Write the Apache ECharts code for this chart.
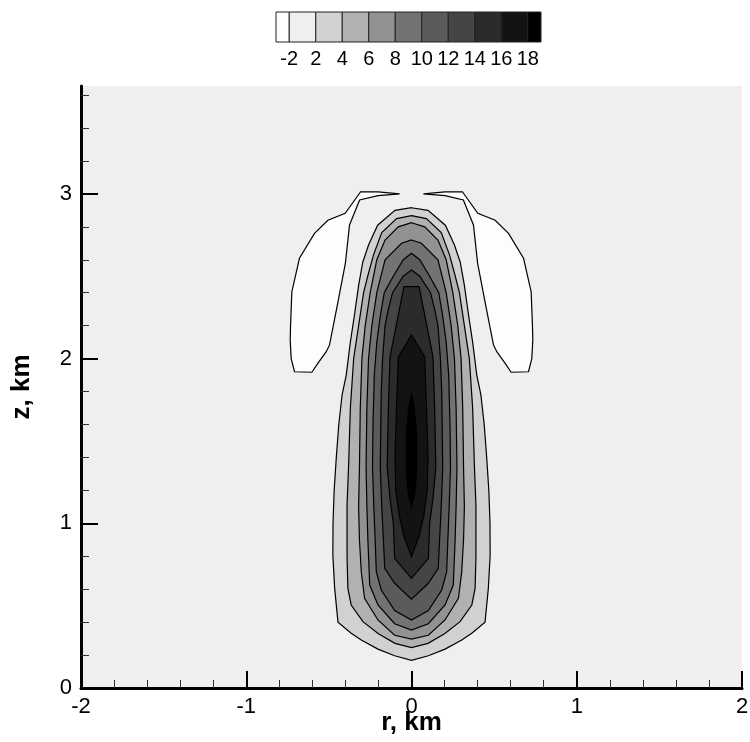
<!DOCTYPE html>
<html><head><meta charset="utf-8">
<script src="https://cdn.jsdelivr.net/npm/echarts@6/dist/echarts.min.js"></script>
<style>html,body{margin:0;padding:0;background:#fff}#c{width:750px;height:742px}</style>
</head><body><div id="c"></div>
<script>
// contour levels shown on the colour bar (labels at band boundaries)
const levelLabels = [-2, 2, 4, 6, 8, 10, 12, 14, 16, 18];
// fill colour of each band: < -2, -2..2, 2..4, ..., 16..18, > 18
const bandColors = ['#fdfdfd','#efefef','#d1d1d1','#b1b1b1','#929292','#737373','#5b5b5b','#454545','#2b2b2b','#131313','#000000'];

// right half (r >= 0) of each closed contour, [r km, z km], from the top tip down to the bottom tip
const c2 = [[0,2.916],[0.10,2.90],[0.205,2.81],[0.26,2.69],[0.295,2.585],[0.32,2.445],[0.345,2.265],[0.37,2.10],[0.395,1.90],[0.42,1.78],[0.44,1.60],[0.455,1.40],[0.468,1.20],[0.475,1.00],[0.476,0.807],[0.465,0.605],[0.445,0.40],[0.365,0.332],[0.304,0.291],[0.203,0.236],[0.102,0.196],[0,0.168]];
const c4 = [[0,2.868],[0.09,2.85],[0.18,2.765],[0.23,2.63],[0.265,2.50],[0.29,2.40],[0.32,2.20],[0.35,2.00],[0.37,1.70],[0.381,1.34],[0.39,1.11],[0.39,0.80],[0.385,0.605],[0.365,0.504],[0.294,0.403],[0.20,0.33],[0.10,0.271],[0,0.245]];
const c6 = [[0,2.825],[0.08,2.80],[0.16,2.72],[0.21,2.60],[0.25,2.40],[0.28,2.20],[0.30,2.00],[0.31,1.70],[0.315,1.34],[0.32,1.10],[0.315,0.90],[0.304,0.706],[0.284,0.545],[0.203,0.413],[0.102,0.32],[0,0.297]];
const c8 = [[0,2.72],[0.06,2.70],[0.16,2.60],[0.21,2.40],[0.24,2.20],[0.26,2.00],[0.27,1.70],[0.275,1.34],[0.27,1.10],[0.264,0.90],[0.253,0.625],[0.203,0.504],[0.102,0.39],[0,0.352]];
const c10 = [[0,2.64],[0.05,2.60],[0.11,2.50],[0.165,2.40],[0.19,2.25],[0.21,2.10],[0.225,1.90],[0.233,1.60],[0.236,1.34],[0.228,1.10],[0.22,0.90],[0.213,0.706],[0.183,0.595],[0.102,0.47],[0,0.413]];
const c12 = [[0,2.538],[0.05,2.50],[0.115,2.40],[0.14,2.30],[0.16,2.20],[0.175,2.00],[0.183,1.80],[0.189,1.34],[0.18,1.10],[0.17,0.90],[0.162,0.727],[0.102,0.636],[0,0.539]];
const c14 = [[0,2.437],[0.046,2.437],[0.09,2.214],[0.13,2.01],[0.14,1.70],[0.147,1.34],[0.13,1.15],[0.11,1.00],[0.102,0.787],[0,0.666]];
const c16 = [[0,2.143],[0.08,2.01],[0.09,1.72],[0.10,1.40],[0.095,1.20],[0.075,1.05],[0.045,0.92],[0,0.797]];
const c18 = [[0,1.78],[0.015,1.72],[0.03,1.55],[0.03,1.30],[0.02,1.18],[0,1.10]];
// closed -2 contour (negative lobe) on the r > 0 side, [r km, z km]
const lobeRight = [[0.072,3.0],[0.203,3.012],[0.308,3.013],[0.401,2.882],[0.506,2.84],[0.587,2.76],[0.678,2.609],[0.724,2.406],[0.732,2.20],[0.734,2.113],[0.728,2.0],[0.708,1.92],[0.603,1.917],[0.567,1.971],[0.516,2.042],[0.496,2.083],[0.445,2.345],[0.40,2.58],[0.375,2.811],[0.314,2.963],[0.203,2.989]];

const contourHalves = [c2, c4, c6, c8, c10, c12, c14, c16, c18];
const yTicksMajor = [0, 1, 2, 3];
const yTicksMinor = [0.2,0.4,0.6,0.8,1.2,1.4,1.6,1.8,2.2,2.4,2.6,2.8,3.2,3.4,3.6];

// axisymmetric field: mirror the r >= 0 half to r < 0
function closeSym(half) {
  const left = half.slice().reverse().map(p => [-p[0], p[1]]);
  return half.concat(left.slice(1, left.length - 1));
}
const shapes = [];
contourHalves.forEach((h, i) => shapes.push({pts: closeSym(h), color: bandColors[i + 2]}));
shapes.push({pts: lobeRight, color: bandColors[0]});
shapes.push({pts: lobeRight.map(p => [-p[0], p[1]]), color: bandColors[0]});

// colour-bar boxes: boundary i sits at 2*i+1 on a 0..20 axis
const boxes = bandColors.map((c, k) => [k === 0 ? 0 : 2 * k - 1, k === bandColors.length - 1 ? 20 : 2 * k + 1, k]);

const FONT = 'Liberation Sans, Arial, sans-serif';
const chart = echarts.init(document.getElementById('c'), null, {renderer: 'canvas'});
chart.setOption({
  animation: false,
  backgroundColor: '#ffffff',
  grid: [
    {left: 81, right: 8, top: 86, bottom: 54, show: true, backgroundColor: '#efefef', borderWidth: 0,
     containLabel: false, outerBoundsMode: 'none'},
    {left: 276, top: 12, width: 265, height: 30, containLabel: false, outerBoundsMode: 'none'}
  ],
  xAxis: [
    {gridIndex: 0, type: 'value', min: -2, max: 2, interval: 1, position: 'bottom',
     name: 'r, km', nameLocation: 'middle', nameGap: 22, nameMoveOverlap: false,
     nameTextStyle: {fontFamily: FONT, fontWeight: 'bold', fontSize: 26, color: '#000', verticalAlign: 'top'},
     axisLine: {show: true, onZero: false, lineStyle: {color: '#000', width: 3}},
     axisTick: {show: true, inside: true, length: 17, lineStyle: {color: '#000', width: 2}},
     minorTick: {show: true, splitNumber: 5, length: 8, lineStyle: {color: '#333', width: 1}},
     axisLabel: {show: true, margin: 8, fontFamily: FONT, fontSize: 22, color: '#000', showMinLabel: true, showMaxLabel: true},
     splitLine: {show: false}, minorSplitLine: {show: false}},
    {gridIndex: 1, type: 'value', min: 0, max: 20, interval: 1, position: 'bottom',
     axisLine: {show: false}, axisTick: {show: false}, splitLine: {show: false},
     axisLabel: {show: true, margin: 7, fontFamily: FONT, fontSize: 20, color: '#000', showMinLabel: false, showMaxLabel: false,
       formatter: v => (v % 2 === 1 ? String(levelLabels[(v - 1) / 2]) : '')}}
  ],
  yAxis: [
    {gridIndex: 0, type: 'value', min: 0, max: 3.655, position: 'left',
     name: 'z, km', nameLocation: 'middle', nameGap: 46, nameRotate: 90, nameMoveOverlap: false,
     nameTextStyle: {fontFamily: FONT, fontWeight: 'bold', fontSize: 26, color: '#000'},
     axisLine: {show: true, onZero: false, lineStyle: {color: '#000', width: 3}},
     axisTick: {show: true, inside: true, length: 17, customValues: yTicksMajor, lineStyle: {color: '#000', width: 2}},
     axisLabel: {show: true, margin: 9, fontFamily: FONT, fontSize: 22, color: '#000', customValues: yTicksMajor},
     splitLine: {show: false}},
    {gridIndex: 0, type: 'value', min: 0, max: 3.655, position: 'left', offset: 0,
     axisLine: {show: false, onZero: false},
     axisTick: {show: true, inside: true, length: 8, customValues: yTicksMinor, lineStyle: {color: '#333', width: 1}},
     axisLabel: {show: false}, splitLine: {show: false}},
    {gridIndex: 1, type: 'value', min: 0, max: 1, show: false}
  ],
  series: [
    {type: 'custom', coordinateSystem: 'cartesian2d', xAxisIndex: 0, yAxisIndex: 0, silent: true, clip: true,
     data: shapes.map((s, i) => [s.pts[0][0], s.pts[0][1], i]),
     encode: {x: 0, y: 1},
     renderItem: (params, api) => {
       const s = shapes[params.dataIndex];
       return {type: 'polygon', shape: {points: s.pts.map(p => api.coord(p))},
               style: {fill: s.color, stroke: '#000', lineWidth: 1.2}};
     }},
    {type: 'custom', coordinateSystem: 'cartesian2d', xAxisIndex: 1, yAxisIndex: 2, silent: true,
     data: boxes,
     encode: {x: [0, 1], y: 2},
     renderItem: (params, api) => {
       const b = boxes[params.dataIndex];
       const p0 = api.coord([b[0], 1]);
       const p1 = api.coord([b[1], 0]);
       return {type: 'rect', shape: {x: p0[0], y: p0[1], width: p1[0] - p0[0], height: p1[1] - p0[1]},
               style: {fill: bandColors[b[2]], stroke: '#222', lineWidth: 1}};
     }}
  ]
});
</script>
</body></html>
